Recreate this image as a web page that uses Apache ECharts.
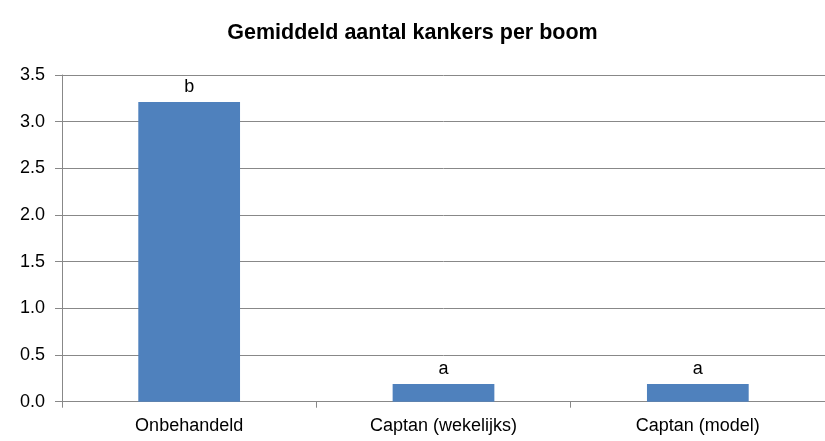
<!DOCTYPE html>
<html><head><meta charset="utf-8">
<script src="https://cdn.jsdelivr.net/npm/echarts@6/dist/echarts.min.js"></script>
<style>html,body{margin:0;padding:0;background:#fff}#c{width:825px;height:441px}</style>
</head><body><div id="c"></div>
<script>
const categories = ['Onbehandeld', 'Captan (wekelijks)', 'Captan (model)'];
const values = [3.21, 0.19, 0.19];
const letters = ['b', 'a', 'a'];
const FONT = '"Liberation Sans", Arial, sans-serif';
const chart = echarts.init(document.getElementById('c'));
chart.setOption({
  animation: false,
  title: { text: 'Gemiddeld aantal kankers per boom', left: 'center', top: 17,
    textStyle: { fontFamily: FONT, fontWeight: 'bold', fontSize: 21.5, color: '#000' } },
  grid: { left: 62, right: -6, top: 75, bottom: 39.3, containLabel: false },
  xAxis: { type: 'category', data: categories,
    axisLine: { lineStyle: { color: '#888', width: 1 } },
    axisTick: { show: true, length: 6, lineStyle: { color: '#888' } },
    axisLabel: { fontFamily: FONT, fontSize: 18, color: '#000', margin: 15 } },
  yAxis: { type: 'value', min: 0, max: 3.5, interval: 0.5,
    axisLine: { show: true, lineStyle: { color: '#888' } },
    axisTick: { show: true, length: 7, lineStyle: { color: '#888' } },
    splitLine: { lineStyle: { color: '#888', width: 1 } },
    axisLabel: { fontFamily: FONT, fontSize: 18, color: '#000', margin: 17,
      formatter: v => v.toFixed(1) } },
  series: [{ type: 'bar', data: values, barWidth: '40%',
    itemStyle: { color: '#4f81bd' },
    label: { show: true, position: 'top', distance: 6, formatter: p => letters[p.dataIndex],
      fontFamily: FONT, fontSize: 18, color: '#000' } }]
});
</script></body></html>
